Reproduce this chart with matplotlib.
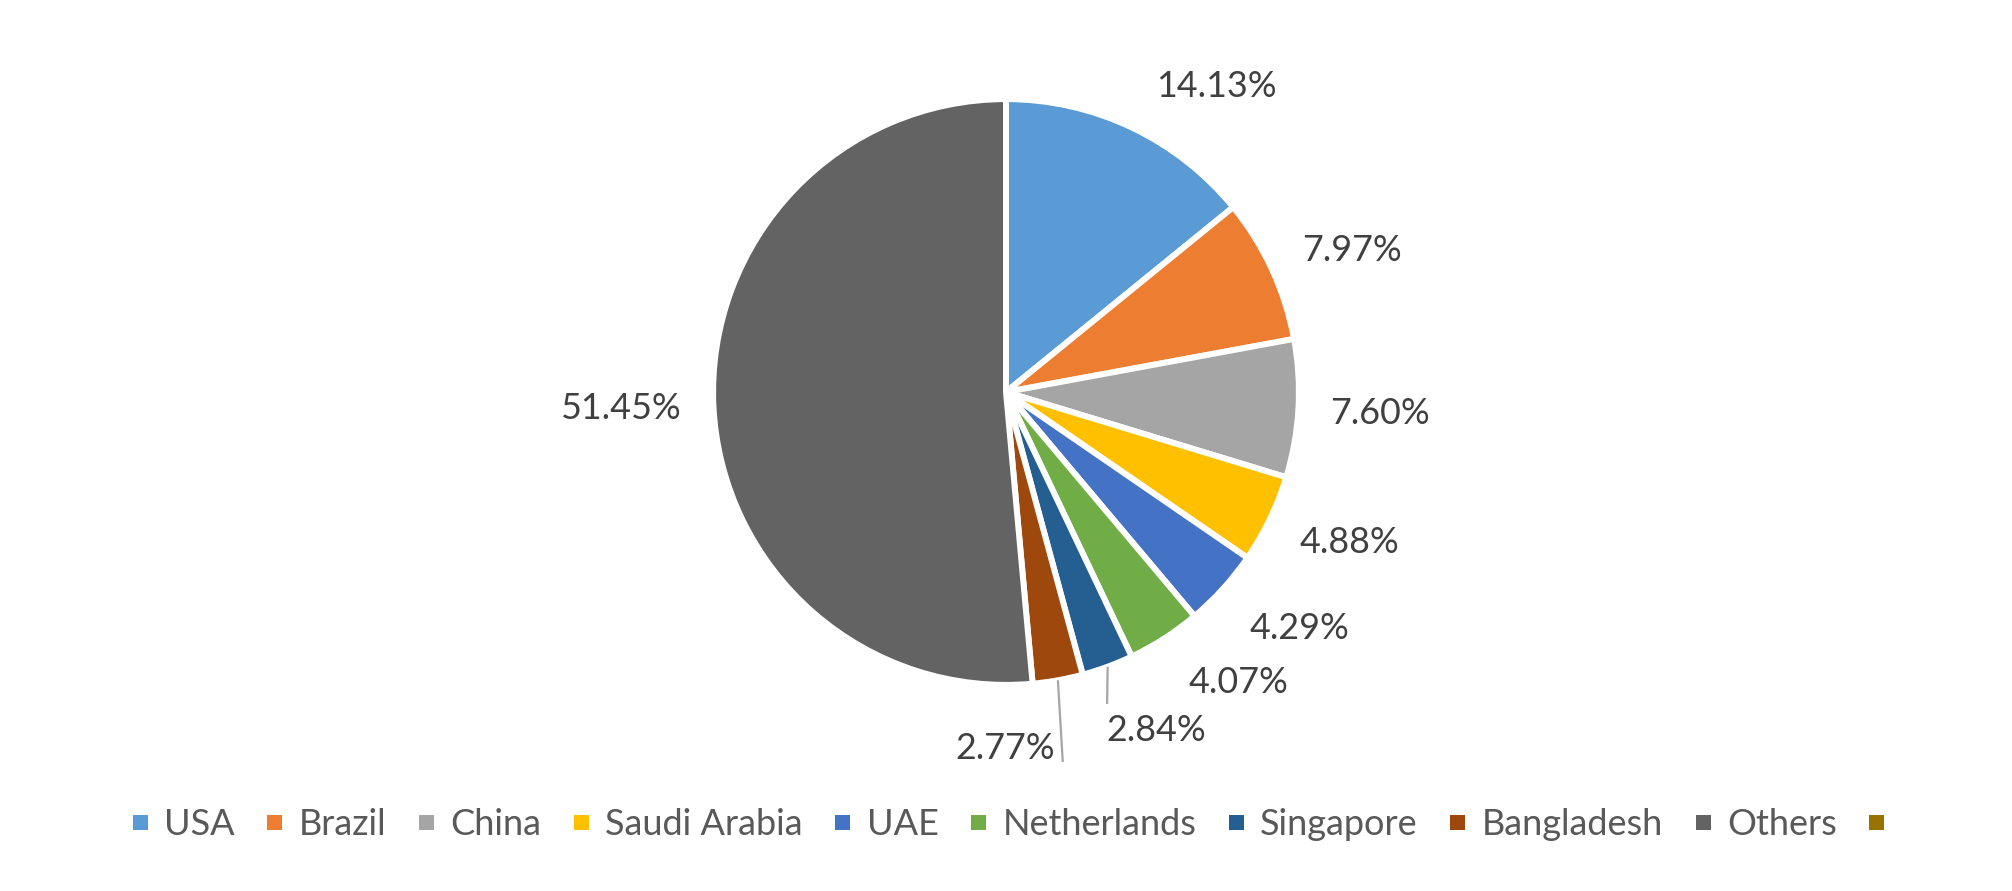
import numpy as np
import matplotlib
matplotlib.use('Agg')
import matplotlib.pyplot as plt
from matplotlib.lines import Line2D

plt.rcParams['font.family'] = ['Lato', 'DejaVu Sans']

# 数据
countries = ['USA', 'Brazil', 'China', 'Saudi Arabia', 'UAE', 'Netherlands',
             'Singapore', 'Bangladesh', 'Others', '']
shares = [14.13, 7.97, 7.60, 4.88, 4.29, 4.07, 2.84, 2.77, 51.45, 0]
colors = ['#5B9BD5', '#ED7D31', '#A5A5A5', '#FFC000', '#4472C4', '#70AD47',
          '#255E91', '#9E480E', '#636363', '#997300']

# 标签位置 (半径, 角度偏移), 相对于扇区中线
label_layout = [(1.277, 9.1), (1.288, 2.6), (1.292, 0.0), (1.294, -2.1),
                (1.300, -3.4), (1.283, -5.9), (1.275, -3.6), (1.231, 10.4),
                (1.329, 0.1)]
leader_offsets = {6: (-0.168, 0.09), 7: (0.2, -0.045)}

W, H = 2012, 891
cx, cy, rpx = 1006, 392, 290  # 像素

fig = plt.figure(figsize=(W / 100, H / 100), dpi=100)
ax = fig.add_axes([0, 0, 1, 1])

vals = [v for v in shares if v > 0]
cols = colors[:len(vals)]
ax.pie(vals, colors=cols, startangle=90, counterclock=False,
       radius=1.01, wedgeprops=dict(edgecolor='white', linewidth=4.3))

ax.set_aspect('auto')
ax.set_xlim(-cx / rpx, (W - cx) / rpx)
ax.set_ylim(-(H - cy) / rpx, cy / rpx)
ax.axis('off')

# 数据标签
total = sum(vals)
cum = np.cumsum([0] + vals)
for i, v in enumerate(vals):
    mid = (cum[i] + v / 2) / total * 360
    r, shift = label_layout[i]
    a = np.deg2rad(mid + shift)
    lx, ly = r * np.sin(a), r * np.cos(a)
    ax.text(lx, ly, f'{v:.2f}%', ha='center', va='center',
            fontsize=25.8, color='#404040')
    if i in leader_offsets:
        am = np.deg2rad(mid)
        sx, sy = 1.01 * np.sin(am), 1.01 * np.cos(am)
        dx, dy = leader_offsets[i]
        ax.plot([sx, lx + dx], [sy, ly + dy], color='#A6A6A6', lw=1.6,
                solid_capstyle='butt')

# 图例
handles = [Line2D([], [], marker='s', linestyle='none', markersize=10.8,
                  markerfacecolor=c, markeredgewidth=0) for c in colors]
leg = fig.legend(handles, countries, loc='center', ncol=len(countries),
                 bbox_to_anchor=(0.505, 0.075), frameon=False, fontsize=26,
                 handlelength=0.45, handletextpad=0.45, columnspacing=0.87,
                 borderpad=0)
for t in leg.get_texts():
    t.set_color('#595959')

fig.savefig('out.png', dpi=100, facecolor='white')
